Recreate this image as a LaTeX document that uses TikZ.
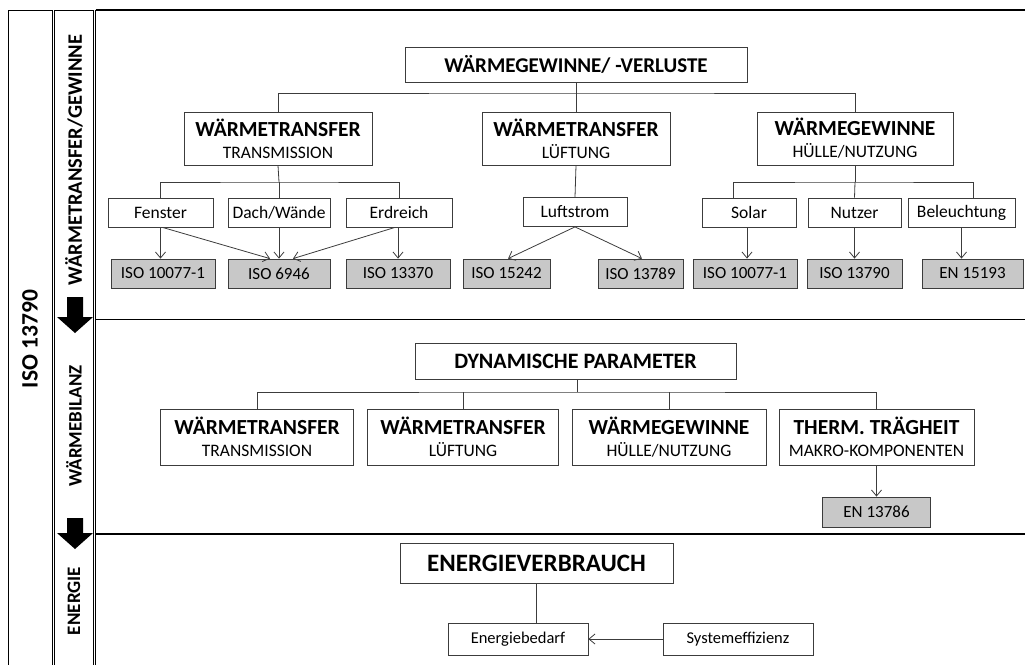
\documentclass[tikz,border=0pt]{standalone}
\usepackage{fontspec}
\setmainfont{Carlito}
\usetikzlibrary{arrows.meta}
\definecolor{linec}{RGB}{60,60,60}
\definecolor{isofill}{RGB}{200,200,200}
\tikzset{
  bx/.style={draw=linec, line width=0.8pt, fill=white, inner sep=0pt, align=center},
  isobox/.style={bx, fill=isofill, minimum height=29pt, font=\fontsize{17}{17}\selectfont},
  smallbox/.style={bx, minimum height=29pt, font=\fontsize{17.5}{17.5}\selectfont},
  twobox/.style={bx, font=\fontsize{17.5}{22}\selectfont},
  conn/.style={draw=linec, line width=0.8pt},
  arr/.style={conn, -{Straight Barb[length=6pt,width=10pt]}},
  frame/.style={draw=black, line width=0.9pt},
  sep/.style={draw=black, line width=1.6pt},
  blockarrow/.style={fill=black, draw=none},
  collabel/.style={rotate=90, font=\bfseries\fontsize{19}{19}\selectfont},
}
\newcommand{\ttl}[2]{{\fontsize{21.5}{22}\selectfont\bfseries #1}\\{#2}}
\begin{document}
\begin{tikzpicture}[x=1pt,y=-1pt]
\useasboundingbox (0,0) rectangle (1025,664);
% frames of the columns
\draw[frame] (8,670) -- (8,10) -- (52,10) -- (52,670);
\draw[frame] (54.5,670) -- (54.5,10) -- (93,10) -- (93,670);
\draw[frame] (95.5,670) -- (95.5,10);
\draw[sep] (95.5,10) -- (1025,10);
\draw[sep] (95.5,319.5) -- (1025,319.5);
\draw[sep] (95.5,534) -- (1025,534);
% block arrows
\fill[blockarrow] (67,297) -- (83,297) -- (83,317) -- (93,317) -- (75,333) -- (57,317) -- (67,317) -- cycle;
\fill[blockarrow] (67,518) -- (83,518) -- (83,533) -- (93,533) -- (75,549) -- (57,533) -- (67,533) -- cycle;
% column labels
\node[rotate=90, font=\bfseries\fontsize{23.5}{23.5}\selectfont] (lbliso) at (30,339) {ISO 13790};
\node[collabel, font=\bfseries\fontsize{20.5}{20.5}\selectfont] (lbl1) at (74,160) {WÄRMETRANSFER/GEWINNE};
\node[collabel] (lbl2) at (74,426) {WÄRMEBILANZ};
\node[collabel] (lbl3) at (74,601) {ENERGIE};

% ---------- top band ----------
\node[bx, minimum width=342pt, minimum height=35pt, font=\fontsize{21}{21}\selectfont\bfseries] (top) at (576,64.5) {WÄRMEGEWINNE/ -VERLUSTE};
\node[twobox, minimum width=188pt, minimum height=53pt] (t1) at (278,138.5) {\ttl{WÄRMETRANSFER}{TRANSMISSION}};
\node[twobox, minimum width=188pt, minimum height=53pt] (t2) at (576,138.5) {\ttl{WÄRMETRANSFER}{LÜFTUNG}};
\node[twobox, minimum width=196pt, minimum height=53pt] (t3) at (855,138.5) {\ttl{WÄRMEGEWINNE}{HÜLLE/NUTZUNG}};
\coordinate (bus0) at (576,93);
\draw[conn] (top.south) -- (bus0);
\draw[conn] (t1.north) |- (bus0) -| (t3.north);
\draw[conn] (bus0) -- (t2.north);

% transmission branch
\node[smallbox, minimum width=105pt] (f1) at (160.5,212.5) {Fenster};
\node[smallbox, minimum width=102pt] (f2) at (279,212.5) {Dach/Wände};
\node[smallbox, minimum width=106pt] (f3) at (399,212.5) {Erdreich};
\coordinate (busA) at (279,182);
\draw[conn] (t1.south) -- (busA);
\draw[conn] (f1.north) |- (busA) -| (f3.north);
\draw[conn] (busA) -- (f2.north);
\node[isobox, minimum width=104pt] (i1) at (163,273.5) {ISO 10077-1};
\node[isobox, minimum width=102pt] (i2) at (279,273.5) {ISO 6946};
\node[isobox, minimum width=104pt] (i3) at (398,273.5) {ISO 13370};
\draw[arr] (f1.south) -- (f1.south |- i1.north);
\draw[arr] ([xshift=2pt]f1.south) -- ([xshift=-9pt]i2.north);
\draw[arr] (f2.south) -- (i2.north);
\draw[arr] ([xshift=-4pt]f3.south) -- ([xshift=14pt]i2.north);
\draw[arr] ([xshift=-1pt]f3.south) -- ([xshift=-1pt]f3.south |- i3.north);

% ventilation branch
\node[smallbox, minimum width=104pt] (lu) at (575,212) {Luftstrom};
\draw[conn] (t2.south) -- (lu.north);
\node[isobox, minimum width=87pt] (i4) at (506.5,273.5) {ISO 15242};
\node[isobox, minimum width=85pt] (i5) at (640.5,273.5) {ISO 13789};
\draw[arr] (lu.south) -- ([xshift=1.5pt]i4.north);
\draw[arr] (lu.south) -- ([xshift=1.5pt]i5.north);

% gains branch
\node[smallbox, minimum width=94pt] (g1) at (749,212.5) {Solar};
\node[smallbox, minimum width=93pt] (g2) at (854.5,212.5) {Nutzer};
\node[smallbox, minimum width=107pt] (g3) at (961.5,212.5) {Beleuchtung};
\coordinate (busB) at (855,182);
\coordinate (g1top) at (733,197.5);
\coordinate (g3top) at (973,197.5);
\draw[conn] (t3.south) -- (busB);
\draw[conn] (g1top) |- (busB) -| (g3top);
\draw[conn] (busB) -- (g2.north);
\node[isobox, minimum width=104pt] (i6) at (745,273.5) {ISO 10077-1};
\node[isobox, minimum width=95pt] (i7) at (854.5,273.5) {ISO 13790};
\node[isobox, minimum width=101pt] (i8) at (972.5,273.5) {EN 15193};
\draw[arr] ([xshift=-2pt]g1.south) -- ([xshift=-2pt]g1.south |- i6.north);
\draw[arr] (g2.south) -- (g2.south |- i7.north);
\draw[arr] (g3.south) -- (g3.south |- i8.north);

% ---------- middle band ----------
\node[bx, minimum width=321pt, minimum height=36pt, font=\fontsize{22}{22}\selectfont\bfseries] (dp) at (575.5,361) {DYNAMISCHE PARAMETER};
\node[twobox, minimum width=193pt, minimum height=56pt] (m1) at (257,437) {\ttl{WÄRMETRANSFER}{TRANSMISSION}};
\node[twobox, minimum width=191pt, minimum height=56pt] (m2) at (463,437) {\ttl{WÄRMETRANSFER}{LÜFTUNG}};
\node[twobox, minimum width=194pt, minimum height=56pt] (m3) at (669,437) {\ttl{WÄRMEGEWINNE}{HÜLLE/NUTZUNG}};
\node[twobox, minimum width=195pt, minimum height=56pt] (m4) at (876.5,437) {\ttl{THERM. TRÄGHEIT}{MAKRO-KOMPONENTEN}};
\coordinate (busC) at (577,392);
\draw[conn] ([xshift=1.5pt]dp.south) -- (busC);
\draw[conn] (m1.north) |- (busC) -| (m4.north);
\draw[conn] (m2.north) -- (m2.north |- busC);
\draw[conn] (m3.north) -- (m3.north |- busC);
\node[isobox, minimum width=108pt, minimum height=30pt] (en1) at (876.5,512) {EN 13786};
\draw[arr] (m4.south) -- (en1.north);

% ---------- bottom band ----------
\node[bx, minimum width=273pt, minimum height=40pt, font=\fontsize{25}{25}\selectfont\bfseries] (ev) at (536.5,563) {ENERGIEVERBRAUCH};
\node[bx, minimum width=140pt, minimum height=32pt, font=\fontsize{16.5}{16.5}\selectfont] (eb) at (518,639) {Energiebedarf};
\node[bx, minimum width=150pt, minimum height=32pt, font=\fontsize{16.5}{16.5}\selectfont] (se) at (738,639) {Systemeffizienz};
\draw[conn] (ev.south) -- (ev.south |- eb.north);
\draw[arr] (se.west) -- (eb.east);
\end{tikzpicture}
\end{document}
